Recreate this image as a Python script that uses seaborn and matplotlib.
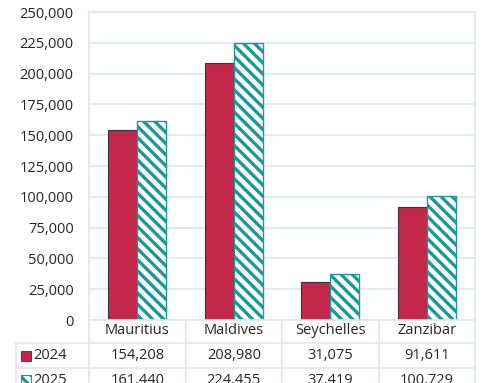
import matplotlib
matplotlib.use("Agg")
import matplotlib.pyplot as plt
import matplotlib.transforms as mtransforms
import seaborn as sns
import pandas as pd
import numpy as np

categories = ["Mauritius", "Maldives", "Seychelles", "Zanzibar"]
years = ["2024", "2025"]
values_2024 = [154208, 208980, 31075, 91611]
values_2025 = [161440, 224455, 37419, 100729]
yticks = list(range(0, 250001, 25000))

sns.set_theme(style="white")
plt.rcParams["font.family"] = ["Open Sans", "DejaVu Sans"]
plt.rcParams["hatch.linewidth"] = 2.4

RED = "#c3284b"
TEAL = "#1b9899"
GRID = "#dfe6f0"
TXT = "#262626"
FS = 10.5

df = pd.DataFrame({
    "cat": categories * 2,
    "year": [years[0]] * 4 + [years[1]] * 4,
    "val": values_2024 + values_2025,
})

W, H = 500, 383
fig = plt.figure(figsize=(W / 100, H / 100), dpi=100)
L, R, T, B = 89, 475, 12, 320
ax = fig.add_axes([L / W, 1 - B / H, (R - L) / W, (B - T) / H])

sns.barplot(data=df, x="cat", y="val", hue="year", order=categories,
            hue_order=years, palette=[RED, "white"], width=0.6,
            legend=False, ax=ax, saturation=1, errorbar=None)

for i, p in enumerate(ax.patches):
    if i < 4:
        p.set_facecolor(RED)
        p.set_edgecolor("#3f2f45")
        p.set_linewidth(0.8)
    else:
        p.set_facecolor("white")
        p.set_edgecolor(TEAL)
        p.set_hatch("\\\\\\")
        p.set_linewidth(1.0)

ax.set_xlim(-0.5, 3.5)
ax.set_ylim(0, 250000)
ax.set_yticks(yticks)
ax.set_yticklabels([f"{v:,}" for v in yticks], fontsize=FS, color=TXT)
ax.tick_params(axis="y", length=0, pad=11)
ax.set_xticks([])
ax.set_xlabel("")
ax.set_ylabel("")
ax.yaxis.grid(True, color=GRID, linewidth=1.2)
ax.set_axisbelow(True)
for s in ax.spines.values():
    s.set_color(GRID)
    s.set_linewidth(1.2)

# Data table below the axes
def fy(py):
    return 1 - py / H

blend = mtransforms.blended_transform_factory(ax.transData, fig.transFigure)
row_lines = [343, 368]
bottom = H + 5
for py in row_lines:
    fig.add_artist(plt.Line2D([16 / W, R / W], [fy(py), fy(py)], color=GRID, lw=1.2,
                              transform=fig.transFigure))
fig.add_artist(plt.Line2D([16 / W, 16 / W], [fy(343), fy(bottom)], color=GRID, lw=1.2,
                          transform=fig.transFigure))
for b in np.arange(-0.5, 4.0, 1.0):
    fig.add_artist(plt.Line2D([b, b], [fy(B), fy(bottom)], color=GRID, lw=1.2,
                              transform=blend))

for i, c in enumerate(categories):
    fig.text(i, fy(331), c, transform=blend, ha="center", va="center",
             fontsize=FS, color=TXT)

rows = [(years[0], values_2024, RED), (years[1], values_2025, TEAL)]
row_y = [355.5, 380]
for (lab, vals, col), py in zip(rows, row_y):
    fig.text(33 / W, fy(py), lab, ha="left", va="center", fontsize=FS, color=TXT)
    if col == RED:
        sq = plt.Rectangle((21 / W, fy(py + 5)), 10 / W, 10 / H, transform=fig.transFigure,
                           facecolor=RED, edgecolor="#3f2f45", lw=0.6)
    else:
        sq = plt.Rectangle((21 / W, fy(py + 5)), 10 / W, 10 / H, transform=fig.transFigure,
                           facecolor="white", edgecolor=TEAL, lw=0.8, hatch="\\\\\\")
    fig.add_artist(sq)
    for i, v in enumerate(vals):
        fig.text(i, fy(py), f"{v:,}", transform=blend, ha="center", va="center",
                 fontsize=FS, color=TXT)

fig.savefig("out.png", dpi=100, facecolor="white")
